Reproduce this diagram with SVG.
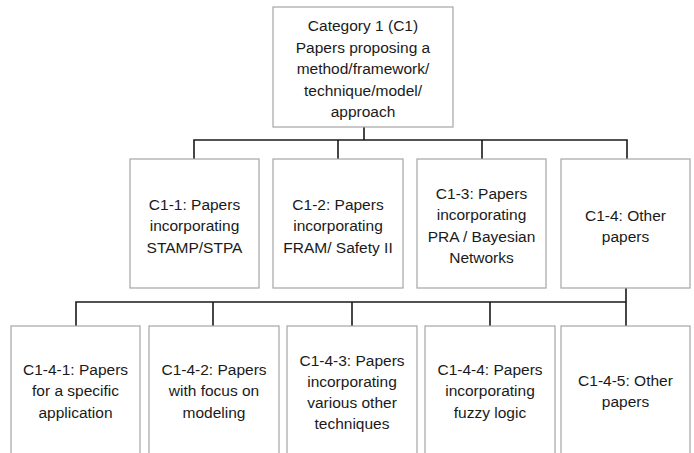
<svg xmlns="http://www.w3.org/2000/svg" width="694" height="453" viewBox="0 0 694 453">
<style>
.box{fill:#ffffff;stroke:#a6a6a6;stroke-width:1.2}
.t{font-family:"Liberation Sans",Arial,sans-serif;font-size:15.5px;fill:#1a1a1a;text-anchor:middle}
.c{fill:none;stroke:#1a1a1a;stroke-width:1.6}
</style>
<rect width="694" height="453" fill="#ffffff"/>
<g id="connectors">
<path class="c" d="M364 127V140M194 159V140H627V159M338 140V159M482 140V159"/>
<path class="c" d="M626 288V302M76 326V302H626V326M213 302V326M352 302V326M490 302V326"/>
</g>
<g id="c1">
<rect class="box" x="273" y="7" width="180" height="120"/>
<text class="t" x="363" y="31">Category 1 (C1)</text>
<text class="t" x="363" y="52.5">Papers proposing a</text>
<text class="t" x="363" y="74">method/framework/</text>
<text class="t" x="363" y="95.5">technique/model/</text>
<text class="t" x="363" y="117">approach</text>
</g>
<g id="c1-1">
<rect class="box" x="130" y="159" width="129" height="129"/>
<text class="t" x="194.5" y="209.5">C1-1: Papers</text>
<text class="t" x="194.5" y="231">incorporating</text>
<text class="t" x="194.5" y="252.5">STAMP/STPA</text>
</g>
<g id="c1-2">
<rect class="box" x="273" y="159" width="130" height="129"/>
<text class="t" x="338" y="209.5">C1-2: Papers</text>
<text class="t" x="338" y="231">incorporating</text>
<text class="t" x="338" y="252.5">FRAM/ Safety II</text>
</g>
<g id="c1-3">
<rect class="box" x="417" y="159" width="129" height="129"/>
<text class="t" x="481.5" y="198.5">C1-3: Papers</text>
<text class="t" x="481.5" y="220">incorporating</text>
<text class="t" x="481.5" y="241.5">PRA / Bayesian</text>
<text class="t" x="481.5" y="263">Networks</text>
</g>
<g id="c1-4">
<rect class="box" x="561" y="159" width="129" height="129"/>
<text class="t" x="625.5" y="220.5">C1-4: Other</text>
<text class="t" x="625.5" y="242">papers</text>
</g>
<g id="c1-4-1">
<rect class="box" x="11" y="326" width="129" height="140"/>
<text class="t" x="75.5" y="374.5">C1-4-1: Papers</text>
<text class="t" x="75.5" y="396">for a specific</text>
<text class="t" x="75.5" y="417.5">application</text>
</g>
<g id="c1-4-2">
<rect class="box" x="149" y="326" width="130" height="140"/>
<text class="t" x="214" y="374.5">C1-4-2: Papers</text>
<text class="t" x="214" y="396">with focus on</text>
<text class="t" x="214" y="417.5">modeling</text>
</g>
<g id="c1-4-3">
<rect class="box" x="287" y="326" width="130" height="140"/>
<text class="t" x="352" y="365.5">C1-4-3: Papers</text>
<text class="t" x="352" y="386.5">incorporating</text>
<text class="t" x="352" y="407.5">various other</text>
<text class="t" x="352" y="428.5">techniques</text>
</g>
<g id="c1-4-4">
<rect class="box" x="425" y="326" width="130" height="140"/>
<text class="t" x="490" y="374.5">C1-4-4: Papers</text>
<text class="t" x="490" y="396">incorporating</text>
<text class="t" x="490" y="417.5">fuzzy logic</text>
</g>
<g id="c1-4-5">
<rect class="box" x="561" y="326" width="129" height="140"/>
<text class="t" x="625.5" y="385.5">C1-4-5: Other</text>
<text class="t" x="625.5" y="407">papers</text>
</g>
</svg>
